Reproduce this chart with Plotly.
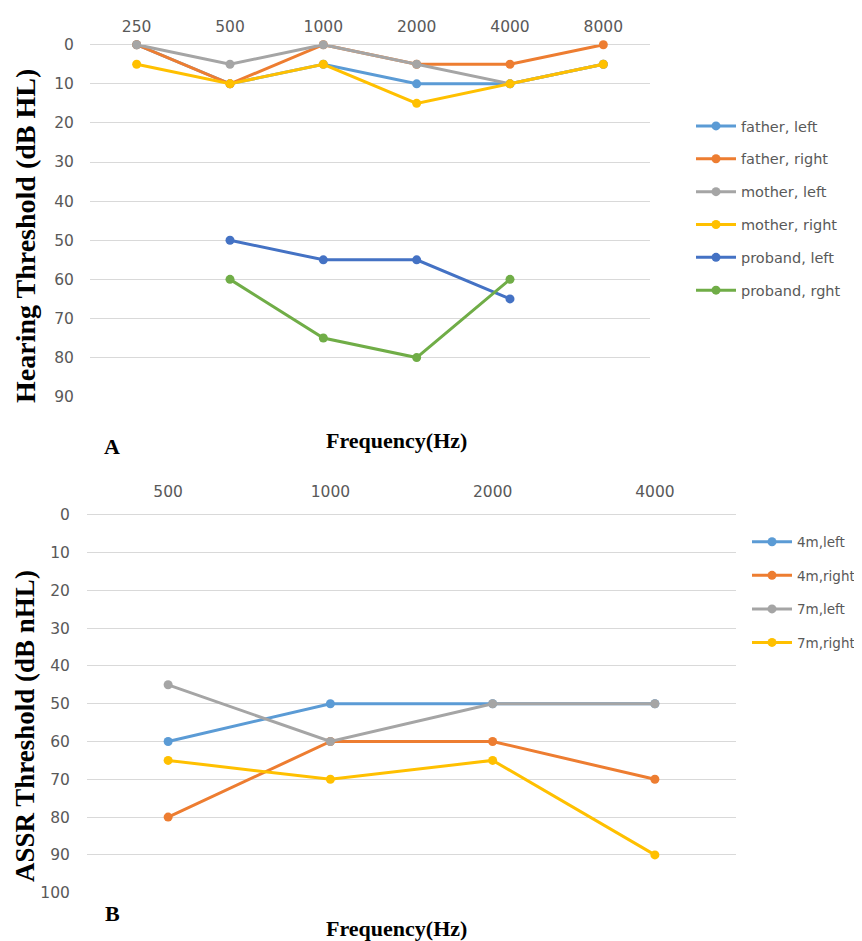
import plotly.graph_objects as go

# ---------------- Data ----------------
freq_a = ["250", "500", "1000", "2000", "4000", "8000"]
freq_a_proband = ["500", "1000", "2000", "4000"]
father_left = [0, 10, 5, 10, 10, 5]
father_right = [0, 10, 0, 5, 5, 0]
mother_left = [0, 5, 0, 5, 10, 5]
mother_right = [5, 10, 5, 15, 10, 5]
proband_left = [50, 55, 55, 65]
proband_right = [60, 75, 80, 60]

freq_b = ["500", "1000", "2000", "4000"]
m4_left = [60, 50, 50, 50]
m4_right = [80, 60, 60, 70]
m7_left = [45, 60, 50, 50]
m7_right = [65, 70, 65, 90]

# page body has an 8px default margin; work in screen pixels
OFF = 8
W, H = 862 - OFF, 941 - OFF
def px(x):
    return (x - OFF) / W
def py(y):
    return 1 - (y - OFF) / H

BLUE = "#5B9BD5"; ORANGE = "#ED7D31"; GRAY = "#A5A5A5"; YELLOW = "#FFC000"
DBLUE = "#4472C4"; GREEN = "#70AD47"
TICKC = "#595959"
GRID = "#D9D9D9"
TFONT = "DejaVu Sans"
SERIF = "Liberation Serif"

fig = go.Figure()

def add(x, y, name, color, xa, ya, leg, i):
    fig.add_trace(go.Scatter(
        x=x, y=y, name=name, mode="lines+markers",
        line=dict(color=color, width=3),
        marker=dict(color=color, size=9),
        xaxis=xa, yaxis=ya, legend=leg, legendgroup=f"{leg}_{i}",
        cliponaxis=False,
    ))

top = [(freq_a, father_left, "father, left", BLUE),
       (freq_a, father_right, "father, right", ORANGE),
       (freq_a, mother_left, "mother, left", GRAY),
       (freq_a, mother_right, "mother, right", YELLOW),
       (freq_a_proband, proband_left, "proband, left", DBLUE),
       (freq_a_proband, proband_right, "proband, rght", GREEN)]
for i, (x, y, n, c) in enumerate(top):
    add(x, y, n, c, "x", "y", "legend", i)

bot = [(freq_b, m4_left, "4m,left", BLUE),
       (freq_b, m4_right, "4m,right", ORANGE),
       (freq_b, m7_left, "7m,left", GRAY),
       (freq_b, m7_right, "7m,right", YELLOW)]
for i, (x, y, n, c) in enumerate(bot):
    add(x, y, n, c, "x2", "y2", "legend2", i)

tickfont = dict(family=TFONT, size=15.5, color=TICKC)
legfont = dict(family=TFONT, size=14.5, color=TICKC)
legfont2 = dict(family=TFONT, size=13.5, color=TICKC)

fig.update_layout(
    width=W, height=H,
    margin=dict(l=0, r=0, t=0, b=0, pad=0, autoexpand=False),
    paper_bgcolor="white", plot_bgcolor="white",
    showlegend=True,
    xaxis=dict(domain=[px(90), px(650)], type="category", categoryorder="array",
               categoryarray=freq_a, range=[-0.5, 5.5], side="top",
               showgrid=False, showline=False, zeroline=False,
               ticks="outside", ticklen=6, tickcolor="rgba(0,0,0,0)",
               tickfont=tickfont, anchor="y", automargin=False),
    yaxis=dict(domain=[py(396.7), py(44.7)], range=[90, 0],
               tickvals=list(range(0, 100, 10)),
               showgrid=True, gridcolor=GRID, gridwidth=1.3,
               zeroline=True, zerolinecolor=GRID, zerolinewidth=1.3,
               showline=False,
               ticks="outside", ticklen=12, tickcolor="rgba(0,0,0,0)",
               tickfont=tickfont, anchor="x", automargin=False),
    xaxis2=dict(domain=[px(87), px(736)], type="category", categoryorder="array",
                categoryarray=freq_b, range=[-0.5, 3.5], side="top",
                showgrid=False, showline=False, zeroline=False,
                ticks="outside", ticklen=11, tickcolor="rgba(0,0,0,0)",
                tickfont=tickfont, anchor="y2", automargin=False),
    yaxis2=dict(domain=[py(892.7), py(514.7)], range=[100, 0],
                tickvals=list(range(0, 110, 10)),
                showgrid=True, gridcolor=GRID, gridwidth=1.3,
                zeroline=True, zerolinecolor=GRID, zerolinewidth=1.3,
                showline=False,
                ticks="outside", ticklen=13, tickcolor="rgba(0,0,0,0)",
                tickfont=tickfont, anchor="x2", automargin=False),
    legend=dict(x=px(691), y=py(110), xanchor="left", yanchor="top",
                font=legfont, tracegroupgap=11, bgcolor="rgba(0,0,0,0)",
                itemwidth=40),
    legend2=dict(x=px(747), y=py(526.5), xanchor="left", yanchor="top",
                 font=legfont2, tracegroupgap=13, bgcolor="rgba(0,0,0,0)",
                 itemwidth=40),
)

anns = [
    dict(text="<b>Hearing Threshold (dB HL)</b>", x=px(25), y=py(236), textangle=-90, size=28),
    dict(text="<b>ASSR Threshold (dB nHL)</b>", x=px(25), y=py(726), textangle=-90, size=27),
    dict(text="<b>Frequency(Hz)</b>", x=px(396), y=py(440), size=22),
    dict(text="<b>Frequency(Hz)</b>", x=px(396), y=py(928), size=22),
    dict(text="<b>A</b>", x=px(112), y=py(446), size=22),
    dict(text="<b>B</b>", x=px(112), y=py(913), size=22),
]
for a in anns:
    s = a.pop("size")
    fig.add_annotation(xref="paper", yref="paper", showarrow=False,
                       xanchor="center", yanchor="middle",
                       font=dict(family=SERIF, size=s, color="black"), **a)

fig.write_html("out.html")
